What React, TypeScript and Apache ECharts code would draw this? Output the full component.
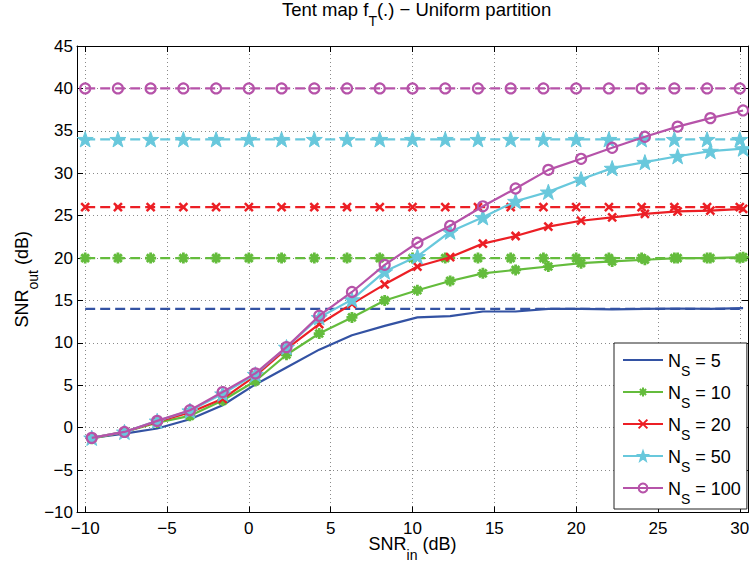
import React, { useEffect, useRef } from "react";
import * as echarts from "echarts";

// ---- data ----
const snrIn = [-9.6, -7.6, -5.6, -3.6, -1.6, 0.4, 2.3, 4.3, 6.3, 8.3, 10.3, 12.3, 14.3, 16.3, 18.3, 20.3, 22.2, 24.2, 26.2, 28.2, 30.2];
const boundX = [-10, -8, -6, -4, -2, 0, 2, 4, 6, 8, 10, 12, 14, 16, 18, 20, 22, 24, 26, 28, 30];

const ns5 = [-1.2, -0.7, -0.1, 1.0, 2.65, 5.1, 7.1, 9.2, 10.9, 12.0, 13.0, 13.15, 13.7, 13.7, 14.0, 14.0, 13.95, 14.0, 14.05, 14.0, 14.1];
const ns10 = [-1.3, -0.5, 0.6, 1.4, 3.2, 5.5, 8.6, 11.1, 13.0, 15.0, 16.2, 17.3, 18.2, 18.6, 19.0, 19.4, 19.6, 19.8, 20.0, 20.0, 20.1];
const ns20 = [-1.2, -0.5, 0.7, 1.8, 3.4, 6.1, 9.3, 12.2, 14.6, 16.9, 19.0, 20.1, 21.7, 22.6, 23.7, 24.4, 24.8, 25.2, 25.5, 25.6, 25.8];
const ns50 = [-1.2, -0.5, 0.8, 2.0, 4.0, 6.3, 9.5, 13.0, 15.1, 18.4, 20.2, 23.1, 24.8, 26.7, 27.8, 29.3, 30.6, 31.3, 32.0, 32.6, 32.9];
const ns100 = [-1.2, -0.5, 0.8, 2.06, 4.2, 6.4, 9.5, 13.2, 16.0, 19.2, 21.8, 23.8, 26.1, 28.2, 30.4, 31.7, 33.0, 34.3, 35.5, 36.5, 37.4];

const bound5 = 14;
const bound10 = 20;
const bound20 = 26;
const bound50 = 34;
const bound100 = 40;

const nsLabels = ["5", "10", "20", "50", "100"];
const xTicks = [-10, -5, 0, 5, 10, 15, 20, 25, 30];

const FONT = "'Liberation Sans', Arial, Helvetica, sans-serif";

const COLORS = ["#3352a3", "#64bc3c", "#ec1f25", "#68c8dc", "#b653a9"];

const starPts = Array.from({ length: 10 }, (_, i) => {
  const r = i % 2 === 0 ? 10 : 4;
  const a = -Math.PI / 2 + (i * Math.PI) / 5;
  return [10 + r * Math.cos(a), 10 + r * Math.sin(a)];
});
const STAR = "path://M" + starPts.map((p) => p[0].toFixed(2) + "," + p[1].toFixed(2)).join("L") + "Z";
const ASTER = "path://M0,5L10,5M5,0L5,10M1.5,1.5L8.5,8.5M1.5,8.5L8.5,1.5";
const CROSS = "path://M0,0L10,10M0,10L10,0";
const LINE_ICON = "path://M0,0L40,0L40,2.2L0,2.2Z";

const fmtMinus = (v: number) => String(v).replace("-", "\u2212");

const seriesName = (i: number) => "N_S = " + nsLabels[i];

export default function App() {
  const ref = useRef<HTMLDivElement>(null);
  useEffect(() => {
    if (!ref.current) return;
    const chart = echarts.init(ref.current, undefined, { renderer: "svg" });

    const solids = [ns5, ns10, ns20, ns50, ns100];
    const bounds = [bound5, bound10, bound20, bound50, bound100];
    const markers: any[] = [
      { symbol: "none", symbolSize: 0, item: {} },
      { symbol: ASTER, symbolSize: 11, item: { color: COLORS[1], borderColor: COLORS[1], borderWidth: 2.8 } },
      { symbol: CROSS, symbolSize: 8, item: { color: COLORS[2], borderColor: COLORS[2], borderWidth: 2.5 } },
      { symbol: STAR, symbolSize: 16, item: { color: COLORS[3], borderColor: COLORS[3], borderWidth: 1 } },
      { symbol: "circle", symbolSize: 10, item: { color: "rgba(255,255,255,0)", borderColor: COLORS[4], borderWidth: 2.2 } },
    ];

    const series: any[] = [];
    solids.forEach((vals, i) => {
      const m = markers[i];
      series.push({
        name: "bound" + i,
        type: "line",
        data: boundX.map((x) => [x, bounds[i]]),
        symbol: m.symbol,
        symbolSize: m.symbolSize,
        symbolKeepAspect: true,
        showSymbol: m.symbol !== "none",
        lineStyle: { color: COLORS[i], width: 2.2, type: [10, 5] },
        itemStyle: { color: COLORS[i], ...m.item },
        emphasis: { disabled: true },
        z: 2 + i,
      });
      series.push({
        name: seriesName(i),
        type: "line",
        data: snrIn.map((x, k) => [x, vals[k]]),
        symbol: m.symbol,
        symbolSize: m.symbolSize,
        symbolKeepAspect: true,
        showSymbol: m.symbol !== "none",
        lineStyle: { color: COLORS[i], width: 2.2, type: "solid" },
        itemStyle: { color: COLORS[i], ...m.item },
        emphasis: { disabled: true },
        z: 2 + i,
      });
    });

    const axisLineStyle = { color: "#000", width: 1 };
    const nameRich = {
      m: { fontSize: 18, lineHeight: 20, verticalAlign: "top", color: "#000", fontFamily: FONT, fontWeight: "normal" },
      s: { fontSize: 14, lineHeight: 16, verticalAlign: "top", padding: [13, 0, 0, 0], color: "#000", fontFamily: FONT, fontWeight: "normal" },
    };

    const option: any = {
      animation: false,
      backgroundColor: "#fff",
      textStyle: { fontFamily: FONT },
      title: {
        text: "{m|Tent map f}{s|T}{m|(.) \u2212 Uniform partition}",
        left: 282,
        top: 0,
        padding: 0,
        textStyle: {
          fontWeight: "normal",
          rich: {
            m: { fontSize: 18.5, lineHeight: 20, verticalAlign: "top", color: "#000", fontFamily: FONT, fontWeight: "normal" },
            s: { fontSize: 14, lineHeight: 16, verticalAlign: "top", padding: [14, 0, 0, 0], color: "#000", fontFamily: FONT, fontWeight: "normal" },
          },
        },
      },
      grid: { left: 77, right: 1, top: 46, bottom: 50.5, containLabel: false, outerBoundsMode: "none" },
      legend: {
        data: nsLabels.map((_, i) => (i === 0 ? { name: seriesName(i), icon: LINE_ICON } : seriesName(i))),
        orient: "vertical",
        left: 614,
        top: 343,
        padding: [7, 6, 3, 8],
        itemGap: 4,
        itemWidth: 40,
        itemHeight: 11,
        backgroundColor: "#fff",
        borderColor: "#222",
        borderWidth: 1,
        borderRadius: 0,
        formatter: (name: string) => {
          const rest = name.replace("N_S", "");
          return "{m|N}{s|S}{m|" + rest + "}";
        },
        textStyle: {
          color: "#000",
          rich: {
            m: { fontSize: 18, lineHeight: 20, padding: [2, 0, 0, 0], verticalAlign: "top", color: "#000", fontFamily: FONT },
            s: { fontSize: 14, lineHeight: 16, padding: [14, 0, 0, 0], verticalAlign: "top", color: "#000", fontFamily: FONT },
          },
        },
      },
      xAxis: [
        {
          type: "value",
          min: -10.5,
          max: 30.5,
          position: "bottom",
          axisLine: { show: true, onZero: false, lineStyle: axisLineStyle },
          axisTick: { show: true, inside: true, length: 6, customValues: xTicks, lineStyle: axisLineStyle },
          axisLabel: { customValues: xTicks, formatter: fmtMinus, color: "#000", fontSize: 17, margin: 7, fontFamily: FONT },
          splitLine: { show: true, lineStyle: { color: "#8a8a8a", width: 1, type: [1, 3] } },
          name: "{m|SNR}{s|in}{m| (dB)}",
          nameLocation: "middle",
          nameGap: 22,
          nameMoveOverlap: false,
          nameTextStyle: { rich: nameRich },
        },
        {
          type: "value",
          min: -10.5,
          max: 30.5,
          position: "top",
          axisLine: { show: true, onZero: false, lineStyle: axisLineStyle },
          axisTick: { show: true, inside: true, length: 6, customValues: xTicks, lineStyle: axisLineStyle },
          axisLabel: { show: false },
          splitLine: { show: false },
        },
      ],
      yAxis: [
        {
          type: "value",
          min: -10,
          max: 45,
          interval: 5,
          position: "left",
          axisLine: { show: true, onZero: false, lineStyle: axisLineStyle },
          axisTick: { show: true, inside: true, length: 6, lineStyle: axisLineStyle },
          axisLabel: { formatter: fmtMinus, color: "#000", fontSize: 17, margin: 4, fontFamily: FONT },
          splitLine: { show: true, lineStyle: { color: "#8a8a8a", width: 1, type: [1, 3] } },
          name: "{m|SNR}{s|out}{m| (dB)}",
          nameLocation: "middle",
          nameGap: 44,
          nameMoveOverlap: false,
          nameTextStyle: { rich: nameRich },
        },
        {
          type: "value",
          min: -10,
          max: 45,
          interval: 5,
          position: "right",
          axisLine: { show: true, onZero: false, lineStyle: axisLineStyle },
          axisTick: { show: true, inside: true, length: 6, lineStyle: axisLineStyle },
          axisLabel: { show: false },
          splitLine: { show: false },
        },
      ],
      series,
    };
    chart.setOption(option);
    return () => chart.dispose();
  }, []);
  return (
    <div
      ref={ref}
      style={{ position: "fixed", left: 0, top: 0, width: 749, height: 563, background: "#fff" }}
    />
  );
}
